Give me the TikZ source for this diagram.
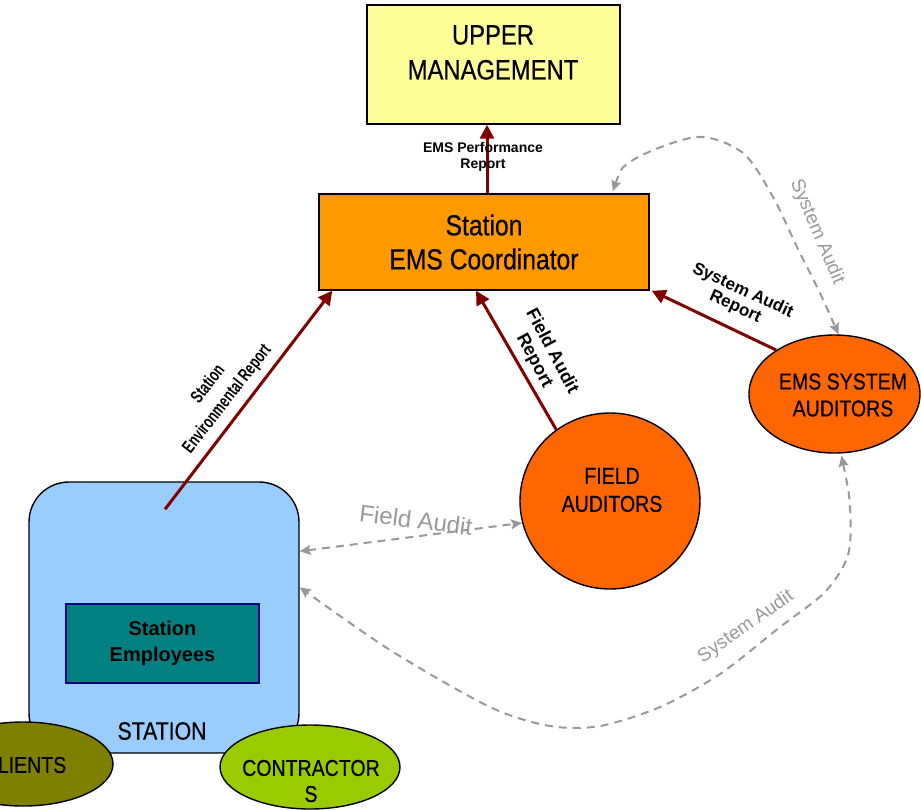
\documentclass[tikz,border=0pt]{standalone}
\usepackage{fontspec}
\setmainfont{Liberation Sans}
\newfontfamily\narrowfont[FakeStretch=0.85,FakeBold=0.5]{Liberation Sans}
\newfontfamily\squeezefont[FakeStretch=0.7]{Liberation Sans}
\usetikzlibrary{arrows.meta,calc,shapes.geometric}
\definecolor{umyellow}{HTML}{FFFF99}
\definecolor{coordorange}{HTML}{FF9900}
\definecolor{stationblue}{HTML}{99CCFF}
\definecolor{empteal}{HTML}{008080}
\definecolor{empnavy}{HTML}{000080}
\definecolor{audorange}{HTML}{FF6600}
\definecolor{clientolive}{HTML}{808000}
\definecolor{contrgreen}{HTML}{99CC00}
\definecolor{darkred}{HTML}{800000}
\definecolor{audgrey}{HTML}{999999}
\begin{document}
\begin{tikzpicture}[x=1pt,y=-1pt,
  box/.style={draw=black, line width=1.4pt, inner sep=0pt},
  redarrow/.style={draw=darkred, line width=3pt, -{Triangle[length=14pt,width=14pt]}},
  greyarrow/.style={draw=audgrey, line width=2pt, dash pattern=on 8pt off 6pt,
    {Stealth[length=11pt,width=10pt,inset=2pt]}-{Stealth[length=11pt,width=10pt,inset=2pt]}},
  greytext/.style={text=audgrey, inner sep=0pt}
]
\useasboundingbox (0,0) rectangle (921,809);
\clip (0,0) rectangle (921,809);

% boxes
\node[box, fill=umyellow, minimum width=253pt, minimum height=119pt] (um) at (493.5,64.5) {};
\node[font=\narrowfont\fontsize{28}{35}\selectfont, align=center] (umtext) at (493,52.5) {UPPER\\MANAGEMENT};

\node[box, fill=coordorange, minimum width=330pt, minimum height=96pt,
  font=\narrowfont\fontsize{29}{34}\selectfont, align=center] (coord) at (484,242) {Station\\EMS Coordinator};

\node[box, fill=stationblue, rounded corners=40pt, minimum width=270pt, minimum height=271pt] (station) at (164,617.5) {};
\node[draw=empnavy, line width=1.5pt, fill=empteal, inner sep=0pt, minimum width=193pt, minimum height=79pt,
  font=\bfseries\fontsize{20}{26}\selectfont, align=center] (emp) at (162.5,643.5) {Station\\Employees};
\node[font=\narrowfont\fontsize{25}{30}\selectfont] (stlabel) at (162,731) {STATION};

\node[box, ellipse, fill=clientolive, minimum width=180pt, minimum height=84pt] (clients) at (23,764) {};
\node[font=\narrowfont\fontsize{23}{27}\selectfont] (clientstext) at (25,765) {CLIENTS};

\node[box, ellipse, fill=contrgreen, minimum width=180pt, minimum height=84pt] (contr) at (310,767) {};
\node[font=\narrowfont\fontsize{23}{26}\selectfont, align=center] (contrtext) at (311,781) {CONTRACTOR\\S};

\node[box, ellipse, fill=audorange, minimum width=180pt, minimum height=176pt] (fa) at (610,501) {};
\node[font=\narrowfont\fontsize{23}{28}\selectfont, align=center] (fatext) at (612,490) {FIELD\\AUDITORS};

\node[box, ellipse, fill=audorange, minimum width=171pt, minimum height=118pt] (sa) at (834.5,394) {};
\node[font=\narrowfont\fontsize{23}{27}\selectfont, align=center] (satext) at (843,395) {EMS SYSTEM\\AUDITORS};

% red report arrows
\draw[redarrow] ($(coord.north)+(3,0)$) -- ($(um.south)+(-6.5,0)$);
\coordinate (envstart) at ($(station.north)+(1,28)$);
\draw[redarrow] (envstart) -- ($(coord.south west)+(14,0)$);
\draw[redarrow] (fa.127) -- ($(coord.south)+(-8,0)$);
\draw[redarrow] (sa.143) -- ($(coord.south east)+(2,0)$);

\node[font=\bfseries\fontsize{14}{16}\selectfont, align=center, inner sep=0pt] (perflabel) at (483,157) {EMS Performance\\Report};
\node[rotate=52, font=\squeezefont\bfseries\fontsize{18}{24}\selectfont, align=center, inner sep=0pt] (envlabel) at (218,392) {Station\\Environmental Report};
\node[rotate=-62, font=\bfseries\fontsize{18}{20}\selectfont, align=center, inner sep=0pt] (falabel) at (543,356) {Field Audit\\Report};
\node[rotate=-24.6, font=\bfseries\fontsize{17}{18}\selectfont, align=center, inner sep=0pt] (salabel) at (739,299) {System Audit\\Report};

% grey audit arrows
\coordinate (faEnd) at ($(station.north east)+(0,70)$);
\draw[greyarrow] (faEnd) -- (fa.194);
\node[greytext, rotate=-7.2, font=\fontsize{24}{28}\selectfont] (falbl) at (416,520) {Field Audit};

\coordinate (cTop) at ($(coord.north east)+(-37,-2)$);
\coordinate (saTop) at ($(sa.north)+(4,0)$);
\draw[greyarrow] plot[smooth] coordinates {(cTop) (633,160) (697,137) (743,153) (773,197) (797,247) (820,293) (saTop)};
\node[greytext, rotate=-67, font=\fontsize{19}{22}\selectfont] (salbl1) at (817,232) {System Audit};

\coordinate (saBot) at ($(sa.south)+(7,2)$);
\coordinate (stSys) at ($(station.north east)+(0,106)$);
\draw[greyarrow] plot[smooth] coordinates {(saBot) (850,507) (848,555) (825,592) (780,627) (720,674) (660,707) (600,726) (550,726) (490,707) (390,650) (stSys)};
\node[greytext, rotate=35, font=\fontsize{19}{22}\selectfont] (salbl2) at (746,627) {System Audit};
\end{tikzpicture}
\end{document}
